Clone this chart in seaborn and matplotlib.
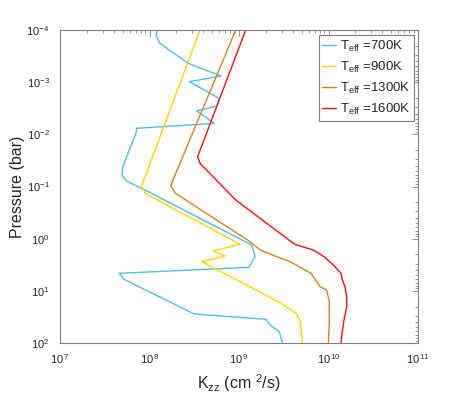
import numpy as np
import pandas as pd
import matplotlib
matplotlib.use("Agg")
import matplotlib.pyplot as plt
import seaborn as sns
from matplotlib.ticker import LogLocator, NullFormatter

# Data (log10 pressure [bar], log10 Kzz [cm^2/s])
logp_700 = [-4.0, -3.90, -3.745, -3.36, -3.118, -3.01, -2.69, -2.544, -2.447, -2.21, -2.116, -2.02,
            -1.38, -1.22, -1.11, -0.965, 0.121, 0.345, 0.549, 0.664, 0.779, 1.444, 1.546, 1.655, 1.783, 2.0]
logk_700 = [8.087, 8.073, 8.117, 8.434, 8.799, 8.445, 8.777, 8.758, 8.527, 8.724, 7.857, 7.849,
            7.70, 7.693, 7.737, 7.913, 9.142, 9.18, 9.112, 7.663, 7.715, 8.501, 9.302, 9.346, 9.45, 9.484]

logp_900 = [-4.0, -1.016, -0.87, 0.108, 0.236, 0.332, 0.441, 1.208, 1.444, 1.59, 2.0]
logk_900 = [8.564, 7.913, 7.95, 9.011, 8.713, 8.844, 8.583, 9.44, 9.645, 9.682, 9.708]

logp_1300 = [-4.0, -1.016, -0.87, 0.057, 0.217, 0.345, 0.44, 0.664, 0.92, 0.984, 1.208, 1.622, 2.0]
logk_1300 = [8.963, 8.236, 8.29, 9.123, 9.235, 9.421, 9.57, 9.804, 9.905, 9.98, 10.009, 10.009, 9.998]

logp_1600 = [-4.0, -1.571, -1.444, -0.742, 0.089, 0.121, 0.217, 0.345, 0.505, 0.664, 0.792, 0.92,
             1.112, 1.304, 1.559, 1.783, 2.0]
logk_1600 = [9.075, 8.538, 8.564, 8.963, 9.607, 9.645, 9.83, 9.95, 10.054, 10.14, 10.154, 10.184,
             10.203, 10.203, 10.173, 10.154, 10.14]

labels = [r'T$_\mathregular{eff}$ =700K', r'T$_\mathregular{eff}$ =900K',
          r'T$_\mathregular{eff}$ =1300K', r'T$_\mathregular{eff}$ =1600K']
colors = ['#4DBEEE', '#FFD300', '#D9821C', '#FF1010']

xtick_vals = [1e7, 1e8, 1e9, 1e10, 1e11]
xtick_labels = ['10$^{\\,7}$', '10$^{\\,8}$', '10$^{\\,9}$', '10$^{\\,10}$', '10$^{\\,11}$']
ytick_vals = [1e-4, 1e-3, 1e-2, 1e-1, 1e0, 1e1, 1e2]
ytick_labels = ['10$^{-4}$', '10$^{-3}$', '10$^{-2}$', '10$^{-1}$', '10$^{0}$', '10$^{1}$', '10$^{2}$']

frames = []
for lab, lp, lk in zip(labels, [logp_700, logp_900, logp_1300, logp_1600],
                       [logk_700, logk_900, logk_1300, logk_1600]):
    frames.append(pd.DataFrame({'p': np.power(10.0, lp), 'k': np.power(10.0, lk), 'series': lab}))
df = pd.concat(frames, ignore_index=True)

sns.set_style("white")
plt.rcParams['font.family'] = ['Liberation Sans', 'DejaVu Sans']
plt.rcParams['mathtext.fontset'] = 'custom'
plt.rcParams['mathtext.rm'] = 'Liberation Sans'
plt.rcParams['mathtext.it'] = 'Liberation Sans:italic'

fig = plt.figure(figsize=(4.63, 3.99), dpi=100)
ax = fig.add_axes([60/463, 1-343/399, 358/463, 313/399])

sns.lineplot(data=df, x='k', y='p', hue='series', palette=dict(zip(labels, colors)),
             sort=False, estimator=None, lw=1.0, ax=ax)

ax.set_xscale('log')
ax.set_yscale('log')
ax.set_xlim(1e7, 1e11)
ax.set_ylim(1e2, 1e-4)

grey = '#808080'
for s in ax.spines.values():
    s.set_color(grey)
    s.set_linewidth(0.8)
    s.set_visible(True)

ax.set_xticks(xtick_vals)
ax.set_xticklabels(xtick_labels)
ax.set_yticks(ytick_vals)
ax.set_yticklabels(ytick_labels)
ax.xaxis.set_minor_locator(LogLocator(base=10, subs=np.arange(2, 10), numticks=20))
ax.yaxis.set_minor_locator(LogLocator(base=10, subs=np.arange(2, 10), numticks=20))
ax.xaxis.set_minor_formatter(NullFormatter())
ax.yaxis.set_minor_formatter(NullFormatter())
ax.tick_params(which='both', direction='in', top=True, right=True, color=grey,
               labelcolor='#262626', labelsize=8.0, width=0.6)
ax.tick_params(which='major', length=4)
ax.tick_params(which='minor', length=2)
ax.tick_params(axis='x', pad=6.5)
ax.tick_params(axis='y', pad=7.5)

ax.set_xlabel('K$_\\mathregular{zz}$ (cm $^\\mathregular{2}$/s)', fontsize=11.5, color='#262626', labelpad=5)
ax.set_ylabel('Pressure (bar)', fontsize=11.5, color='#262626')
ax.yaxis.set_label_coords(-0.097, 0.5)

leg = ax.legend(loc='upper right', bbox_to_anchor=(0.989, 0.984), borderaxespad=0,
                fontsize=9.5, frameon=True, fancybox=False, framealpha=1,
                handlelength=1.0, handletextpad=0.3, labelspacing=0.45, borderpad=0.3)
leg.get_frame().set_edgecolor(grey)
leg.get_frame().set_linewidth(0.8)
for t in leg.get_texts():
    t.set_color('#262626')

fig.savefig('out.png', dpi=100)
